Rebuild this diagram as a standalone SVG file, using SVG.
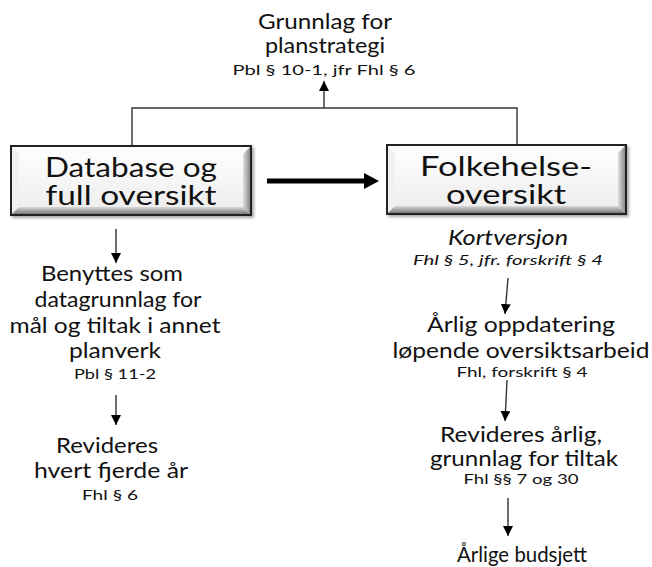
<svg xmlns="http://www.w3.org/2000/svg" width="652" height="567" viewBox="0 0 652 567">
<defs>
<style>
text{font-family:Lato,"Open Sans","Liberation Sans",sans-serif;fill:#111;text-anchor:middle}
.t{font-size:21px}
.s{font-size:14px}
.b{font-size:27px}
.i{font-style:italic}
.ln{stroke:#333;stroke-width:1.4;fill:none}
</style>
<linearGradient id="face" x1="0" y1="0" x2="0" y2="1"><stop offset="0" stop-color="#ffffff"/><stop offset="1" stop-color="#ececec"/></linearGradient>
<linearGradient id="rg" x1="0" y1="0" x2="1" y2="0"><stop offset="0" stop-color="#e0e0e0"/><stop offset="1" stop-color="#8a8a8a"/></linearGradient>
<linearGradient id="bg" x1="0" y1="0" x2="0" y2="1"><stop offset="0" stop-color="#d8d8d8"/><stop offset="1" stop-color="#7a7a7a"/></linearGradient>
<marker id="ah" viewBox="0 0 10 10" refX="10" refY="5" markerWidth="10" markerHeight="10" markerUnits="userSpaceOnUse" orient="auto"><path d="M0,0 L10,5 L0,10 z" fill="#000"/></marker>
<filter id="sh" x="-5%" y="-10%" width="115%" height="130%"><feDropShadow dx="2" dy="2" stdDeviation="1.5" flood-color="#000" flood-opacity="0.35"/></filter>
</defs>

<g id="connectors">
<path class="ln" d="M132,146 V108 H517 V145"/>
<line class="ln" x1="324" y1="108" x2="324" y2="81" marker-end="url(#ah)"/>
<line x1="267" y1="181" x2="366" y2="181" stroke="#000" stroke-width="5"/>
<path d="M364,173 L379,181 L364,189 z" fill="#000"/>
<line class="ln" x1="116" y1="229" x2="116" y2="263" marker-end="url(#ah)"/>
<line class="ln" x1="116" y1="395" x2="116" y2="425" marker-end="url(#ah)"/>
<line class="ln" x1="508" y1="278" x2="505" y2="314" marker-end="url(#ah)"/>
<line class="ln" x1="507" y1="380" x2="505" y2="421" marker-end="url(#ah)"/>
<line class="ln" x1="508" y1="498" x2="508" y2="536" marker-end="url(#ah)"/>
</g>

<g id="top">
<text class="t" x="325" y="29" textLength="134" lengthAdjust="spacingAndGlyphs">Grunnlag for</text>
<text class="t" x="325" y="53" textLength="120" lengthAdjust="spacingAndGlyphs">planstrategi</text>
<text class="s" x="324" y="75" textLength="183" lengthAdjust="spacingAndGlyphs">Pbl § 10-1, jfr Fhl § 6</text>
</g>

<g id="database">
<g filter="url(#sh)">
<rect x="11" y="146" width="240" height="69" fill="url(#face)" stroke="#222" stroke-width="2"/>
</g>
<polygon points="12,147 250,147 243,154 19,154" fill="#fbfbfb"/>
<polygon points="12,147 19,154 19,207 12,214" fill="#f0f0f0"/>
<polygon points="250,147 250,214 243,207 243,154" fill="url(#rg)"/>
<polygon points="12,214 250,214 243,207 19,207" fill="url(#bg)"/>
<rect x="11" y="146" width="240" height="69" fill="none" stroke="#222" stroke-width="2"/>
<text class="b" x="131" y="177" textLength="172" lengthAdjust="spacingAndGlyphs">Database og</text>
<text class="b" x="131" y="205" textLength="171" lengthAdjust="spacingAndGlyphs">full oversikt</text>
</g>

<g id="folkehelse">
<g filter="url(#sh)">
<rect x="387" y="145" width="239" height="69" fill="url(#face)" stroke="#222" stroke-width="2"/>
</g>
<polygon points="388,146 625,146 618,153 395,153" fill="#fbfbfb"/>
<polygon points="388,146 395,153 395,206 388,213" fill="#f0f0f0"/>
<polygon points="625,146 625,213 618,206 618,153" fill="url(#rg)"/>
<polygon points="388,213 625,213 618,206 395,206" fill="url(#bg)"/>
<rect x="387" y="145" width="239" height="69" fill="none" stroke="#222" stroke-width="2"/>
<text class="b" x="506" y="176" textLength="172" lengthAdjust="spacingAndGlyphs">Folkehelse-</text>
<text class="b" x="506" y="204" textLength="120" lengthAdjust="spacingAndGlyphs">oversikt</text>
</g>

<g id="benyttes">
<text class="t" x="112" y="281" textLength="142" lengthAdjust="spacingAndGlyphs">Benyttes som</text>
<text class="t" x="118" y="307" textLength="167" lengthAdjust="spacingAndGlyphs">datagrunnlag for</text>
<text class="t" x="115" y="333" textLength="211" lengthAdjust="spacingAndGlyphs">mål og tiltak i annet</text>
<text class="t" x="115" y="358" textLength="92" lengthAdjust="spacingAndGlyphs">planverk</text>
<text class="s" x="115" y="379" textLength="82" lengthAdjust="spacingAndGlyphs">Pbl § 11-2</text>
</g>

<g id="revideres-left">
<text class="t" x="107" y="453" textLength="102" lengthAdjust="spacingAndGlyphs">Revideres</text>
<text class="t" x="111" y="478" textLength="154" lengthAdjust="spacingAndGlyphs">hvert fjerde år</text>
<text class="s" x="110" y="500" textLength="56" lengthAdjust="spacingAndGlyphs">Fhl § 6</text>
</g>

<g id="kortversjon">
<text class="t i" x="508" y="245" textLength="120" lengthAdjust="spacingAndGlyphs">Kortversjon</text>
<text class="s i" x="508" y="265" textLength="190" lengthAdjust="spacingAndGlyphs">Fhl § 5, jfr. forskrift § 4</text>
</g>

<g id="arlig-oppdatering">
<text class="t" x="521" y="332" textLength="188" lengthAdjust="spacingAndGlyphs">Årlig oppdatering</text>
<text class="t" x="521" y="358" textLength="257" lengthAdjust="spacingAndGlyphs">løpende oversiktsarbeid</text>
<text class="s" x="522" y="377" textLength="131" lengthAdjust="spacingAndGlyphs">Fhl, forskrift § 4</text>
</g>

<g id="revideres-right">
<text class="t" x="521" y="442" textLength="162" lengthAdjust="spacingAndGlyphs">Revideres årlig,</text>
<text class="t" x="524" y="466" textLength="188" lengthAdjust="spacingAndGlyphs">grunnlag for tiltak</text>
<text class="s" x="521" y="484" textLength="115" lengthAdjust="spacingAndGlyphs">Fhl §§ 7 og 30</text>
</g>

<g id="budsjett">
<text class="t" x="522" y="562" textLength="130" lengthAdjust="spacingAndGlyphs">Årlige budsjett</text>
</g>
</svg>
